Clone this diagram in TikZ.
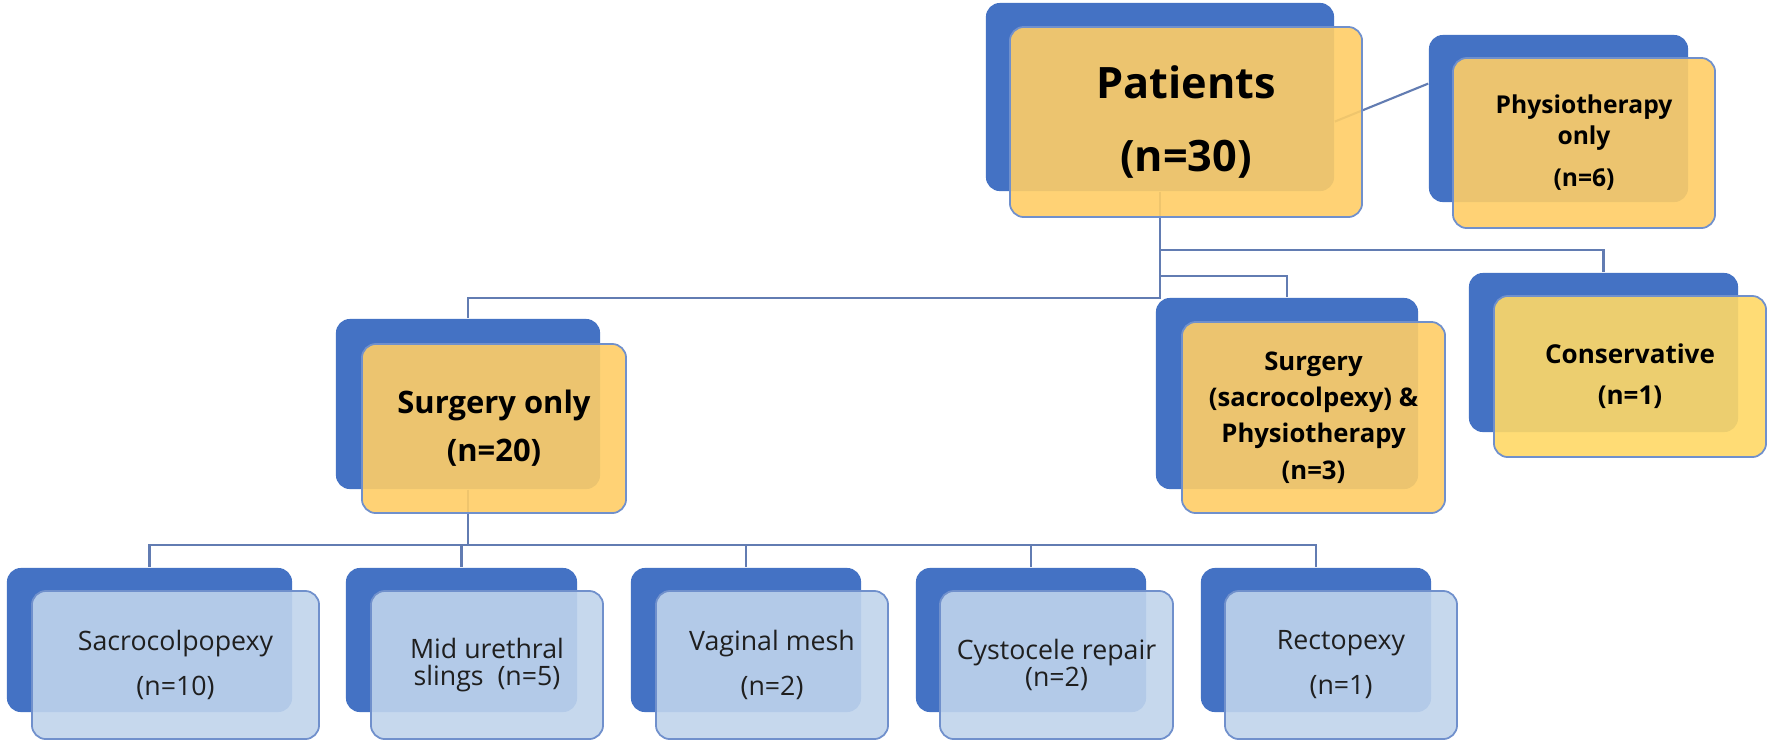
\documentclass[tikz,border=0pt]{standalone}
\usepackage{fontspec}
\setmainfont{Open Sans}
\usetikzlibrary{positioning, calc}

\definecolor{shadeblue}{RGB}{68,114,196}
\definecolor{ambr}{RGB}{255,206,102}
\definecolor{lemon}{RGB}{255,217,102}
\definecolor{paleblue}{RGB}{192,212,236}
\definecolor{rimblue}{RGB}{112,144,204}
\definecolor{wireblue}{RGB}{98,124,178}

\begin{document}
\begin{tikzpicture}[
  x=0.01cm, y=-0.01cm,
  back/.style    ={fill=shadeblue, rounded corners=1.4mm, inner sep=0pt},
  upper/.style   ={draw=rimblue, line width=0.5pt, fill=ambr, fill opacity=0.9, text opacity=1,
                   rounded corners=1.4mm, inner sep=2pt, align=center},
  lemonbox/.style={upper, fill=lemon},
  lower/.style   ={upper, fill=paleblue, text=black!88,
                   font=\fontsize{7.6}{12.8}\selectfont},
  conn/.style    ={draw=wireblue, line width=0.6pt},
]
\fill[white] (0,0) rectangle (1769,744);
\useasboundingbox (0,0) rectangle (1769,744);

% ---------- blue back plates ----------
\node[back, minimum width=34.8mm, minimum height=18.8mm] (bpat) at (1160,97) {};
\node[back, minimum width=25.9mm, minimum height=16.7mm] (bphy) at (1558.5,118.5) {};
\node[back, minimum width=26.4mm, minimum height=17mm]   (bsur) at (468,404) {};
\node[back, minimum width=26.2mm, minimum height=19.1mm] (bsp)  at (1287,393.5) {};
\node[back, minimum width=26.9mm, minimum height=15.9mm] (bcon) at (1603.5,352.5) {};
\foreach \nm/\cx/\w in {sac/149.5/28.5, mid/461.5/23.1, vag/746/23, cys/1031/23, rec/1316/23}
  \node[back, minimum width=\w mm, minimum height=14.4mm] (b\nm) at (\cx,640) {};

% ---------- connectors (behind the front plates) ----------
\draw[conn] (bpat.-8) -- (bphy.165.5);
\draw[conn] (bpat.south) -- ++(0,106) -| (bsur.north);
\draw[conn] (bpat.south) -- ++(0,84)  -| (bsp.north);
\draw[conn] (bpat.south) -- ++(0,58)  -| (bcon.north);
\foreach \nm in {sac,mid,vag,cys,rec}
  \draw[conn] (bsur.south) -- ++(0,55) -| (b\nm.north);

% ---------- front plates with text ----------
\node[upper, minimum width=35.2mm, minimum height=19mm,
      font=\bfseries\fontsize{12.3}{20.5}\selectfont] (fpat) at (1186,122) {Patients\\(n=30)};
\node[upper, minimum width=26.2mm, minimum height=17mm,
      font=\bfseries\fontsize{7}{8.6}\selectfont] (fphy) at (1584,143) {Physiotherapy\\only\\[3.6pt](n=6)};
\node[upper, minimum width=26.4mm, minimum height=16.9mm,
      font=\bfseries\fontsize{8.8}{13.7}\selectfont] (fsur) at (494,428.5) {Surgery only\\(n=20)};
\node[upper, minimum width=26.3mm, minimum height=19.1mm,
      font=\bfseries\fontsize{7.3}{10.3}\selectfont] (fsp) at (1313.5,417.5) {Surgery\\(sacrocolpexy) \&\\Physiotherapy\\(n=3)};
\node[lemonbox, minimum width=27.2mm, minimum height=16.1mm,
      font=\bfseries\fontsize{7.4}{11.7}\selectfont] (fcon) at (1630,376.5) {Conservative\\(n=1)};

\node[lower, minimum width=28.7mm, minimum height=14.8mm] (fsac) at (175.5,665) {Sacrocolpopexy\\(n=10)};
\node[lower, minimum width=23.2mm, minimum height=14.8mm] (fmid) at (487,665) {Mid urethral\\[-5.2pt]slings~~(n=5)};
\node[lower, minimum width=23.2mm, minimum height=14.8mm] (fvag) at (772,665) {Vaginal mesh\\(n=2)};
\node[lower, minimum width=23.3mm, minimum height=14.8mm] (fcys) at (1056.5,665) {Cystocele repair\\[-5.2pt](n=2)};
\node[lower, minimum width=23.2mm, minimum height=14.8mm] (frec) at (1341,665) {Rectopexy\\(n=1)};

\end{tikzpicture}
\end{document}
